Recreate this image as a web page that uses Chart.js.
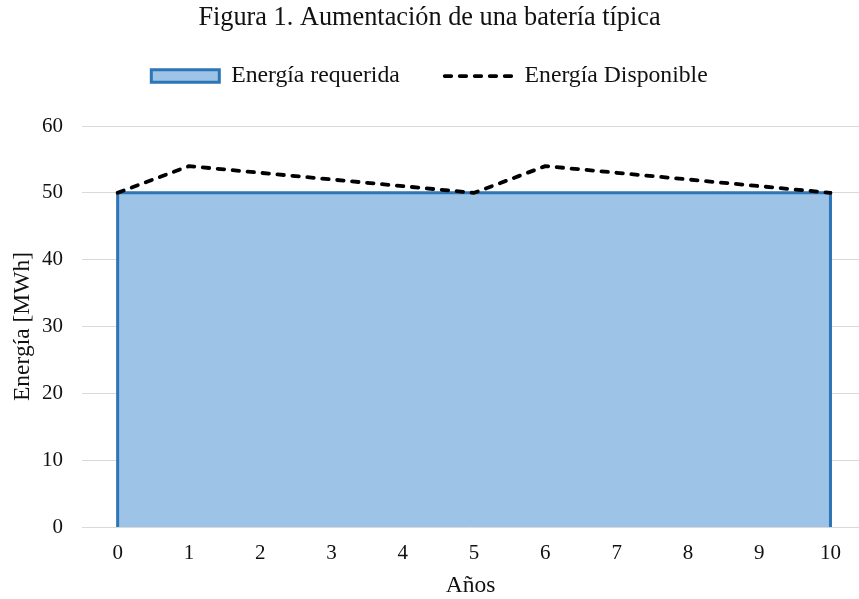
<!DOCTYPE html>
<html>
<head>
<meta charset="utf-8">
<script src="https://cdn.jsdelivr.net/npm/chart.js@4.4.1/dist/chart.umd.min.js"></script>
<style>
  html, body { margin: 0; padding: 0; background: #ffffff; }
  #wrap { width: 859px; height: 599px; }
</style>
</head>
<body>
<div id="wrap"><canvas id="chart" width="859" height="599"></canvas></div>
<script>
// Years on the horizontal axis
const years = [0, 1, 2, 3, 4, 5, 6, 7, 8, 9, 10];
// Energy the application needs each year (MWh)
const requiredEnergy = [50, 50, 50, 50, 50, 50, 50, 50, 50, 50, 50];
// Energy the battery can deliver, with augmentation in year 5 (MWh)
const availableEnergy = [50, 54, 53, 52, 51, 50, 54, 53, 52, 51, 50];
// Value axis ticks
const energyTicks = [0, 10, 20, 30, 40, 50, 60];

const seriesNames = ['Energía requerida', 'Energía Disponible'];
const chartTitle = 'Figura 1. Aumentación de una batería típica';
const xAxisTitle = 'Años';
const yAxisTitle = 'Energía [MWh]';

const AREA_FILL = '#9DC3E6';
const AREA_EDGE = '#2E75B6';
const TEXT = '#111111';
const GRID = '#D9D9D9';
const DASH = [6.5, 8.5];
const DASH_WIDTH = 3.8;

Chart.defaults.font.family = "'Liberation Serif', 'Times New Roman', serif";
Chart.defaults.color = TEXT;

// Outline of the required-energy area: up from the axis, across the years, back down
const first = years[0];
const last = years[years.length - 1];
const requiredOutline = [
  { x: first, y: 0 },
  ...years.map((x, i) => ({ x, y: requiredEnergy[i] })),
  { x: last, y: 0 }
];
const requiredBase = [{ x: first, y: 0 }, { x: last, y: 0 }];
const availablePoints = years.map((x, i) => ({ x, y: availableEnergy[i] }));

new Chart(document.getElementById('chart'), {
  type: 'line',
  data: {
    datasets: [
      {
        label: seriesNames[1],
        data: availablePoints,
        borderColor: '#000000',
        borderWidth: DASH_WIDTH,
        borderDash: DASH,
        borderCapStyle: 'round',
        borderJoinStyle: 'round',
        pointRadius: 0,
        fill: false,
        tension: 0,
        order: 0
      },
      {
        label: seriesNames[0],
        data: requiredOutline,
        borderColor: AREA_EDGE,
        backgroundColor: AREA_FILL,
        borderWidth: 3,
        borderJoinStyle: 'miter',
        pointRadius: 0,
        fill: 'origin',
        tension: 0,
        order: 1
      },
      {
        label: seriesNames[0],
        data: requiredBase,
        borderColor: AREA_EDGE,
        borderWidth: 2,
        pointRadius: 0,
        fill: false,
        order: 2
      }
    ]
  },
  options: {
    responsive: false,
    animation: false,
    devicePixelRatio: 1,
    events: [],
    layout: { padding: { top: 0, right: 0, bottom: 0, left: 0 } },
    plugins: {
      tooltip: { enabled: false },
      title: {
        display: true,
        text: chartTitle,
        color: TEXT,
        font: { size: 26.3, weight: 'normal', lineHeight: 1 },
        // the legend row is allowed to start just under the title glyphs
        padding: { top: 4.6, bottom: -11.7 }
      },
      // empty spacer block between the legend and the plot area
      subtitle: {
        display: true,
        text: '',
        weight: 500,
        font: { size: 1, lineHeight: 1 },
        padding: { top: 0, bottom: 27.1 }
      },
      legend: {
        display: true,
        position: 'top',
        labels: {
          usePointStyle: true,
          pointStyleWidth: 68,
          boxHeight: 12.5,
          padding: 45,
          color: TEXT,
          font: { size: 23.7 },
          generateLabels: () => [
            {
              text: seriesNames[0],
              pointStyle: 'rect',
              fillStyle: AREA_FILL,
              strokeStyle: AREA_EDGE,
              lineWidth: 3,
              fontColor: TEXT,
              hidden: false,
              datasetIndex: 1
            },
            {
              text: seriesNames[1],
              pointStyle: 'line',
              fillStyle: 'rgba(0,0,0,0)',
              strokeStyle: '#000000',
              lineWidth: DASH_WIDTH,
              lineDash: DASH,
              lineCap: 'round',
              fontColor: TEXT,
              hidden: false,
              datasetIndex: 0
            }
          ]
        }
      }
    },
    scales: {
      x: {
        type: 'linear',
        min: -0.5,
        max: 10.4,
        afterBuildTicks: (s) => { s.ticks = years.map(v => ({ value: v })); },
        afterFit: (s) => { s.height = 72; },
        grid: { display: false, drawTicks: false },
        border: { display: false },
        ticks: {
          color: TEXT,
          font: { size: 21 },
          padding: 14,
          maxRotation: 0,
          autoSkip: false
        },
        title: {
          display: true,
          text: xAxisTitle,
          color: TEXT,
          font: { size: 23.5, lineHeight: 1.15 },
          padding: { top: 0, bottom: 0 }
        }
      },
      y: {
        min: 0,
        max: 60,
        afterBuildTicks: (s) => { s.ticks = energyTicks.map(v => ({ value: v })); },
        afterFit: (s) => { s.width = 82; },
        grid: { color: GRID, lineWidth: 1, drawTicks: false },
        border: { display: false },
        ticks: {
          color: TEXT,
          font: { size: 21 },
          padding: 19
        },
        title: {
          display: true,
          text: yAxisTitle,
          color: TEXT,
          font: { size: 23.5, lineHeight: 1.15 },
          padding: { top: 9, bottom: 0 }
        }
      }
    }
  }
});
</script>
</body>
</html>
